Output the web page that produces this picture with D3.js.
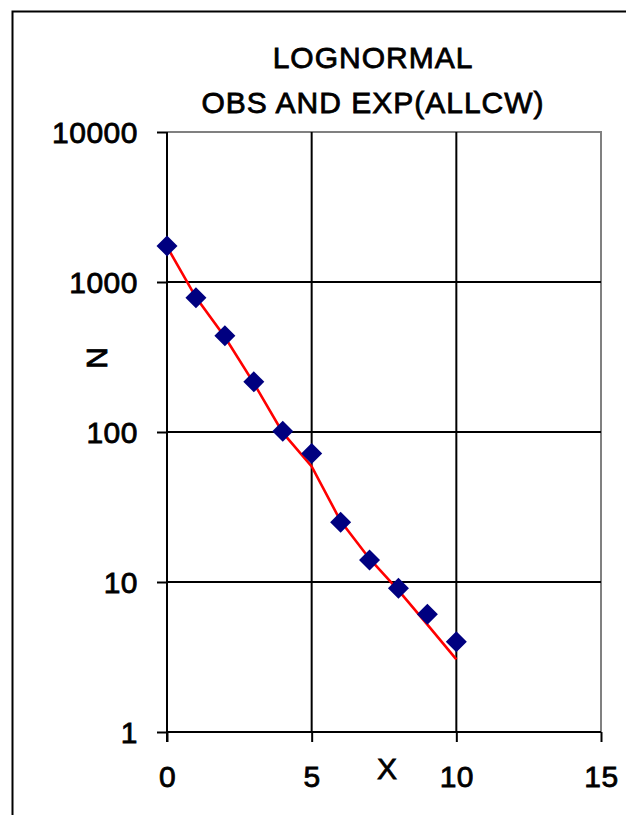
<!DOCTYPE html>
<html>
<head>
<meta charset="utf-8">
<script src="https://cdn.jsdelivr.net/npm/d3@7"></script>
<style>
  html, body { margin: 0; padding: 0; background: #fff; }
  svg { display: block; }
  text { font-family: Arial, "Liberation Sans", sans-serif; fill: #000; }
</style>
</head>
<body>
<svg id="chart" width="626" height="815"></svg>
<script>
// ---- data ----
const titleLines = ["LOGNORMAL", "OBS AND EXP(ALLCW)"];
const xLabel = "X";
const yLabel = "N";
const xTicks = [0, 5, 10, 15];
const yTicks = [1, 10, 100, 1000, 10000];
const obsX = [0, 1, 2, 3, 4, 5, 6, 7, 8, 9, 10];
const obsN = [1740, 785, 438, 216, 101, 72, 25, 14, 9.1, 6.1, 4.0];
const expX = [0, 1, 2, 3, 4, 5, 6, 7, 8, 9, 10];
const expN = [1720, 790, 430, 212, 99, 59, 25.5, 14.3, 8.8, 5.2, 3.05];

// ---- layout ----
const svg = d3.select("#chart");
const pL = 167, pR = 601, pT = 132, pB = 732;
const FONT = 30;

// outer frame (extends beyond the picture on right and bottom)
svg.append("rect")
  .attr("x", 12.5).attr("y", 11.5)
  .attr("width", 700).attr("height", 900)
  .attr("fill", "#fff").attr("stroke", "#000").attr("stroke-width", 2);

const x = d3.scaleLinear().domain([0, 15]).range([pL, pR]);
const y = d3.scaleLog().domain([1, 10000]).range([pB, pT]);

// plot border (top & right gray)
svg.append("path")
  .attr("d", `M${pL},${pT}H${pR}V${pB}`)
  .attr("fill", "none").attr("stroke", "#808080").attr("stroke-width", 2);

// grid lines
const grid = svg.append("g");
grid.selectAll("line.v").data(xTicks.filter(d => d > 0 && d < 15)).join("line")
  .attr("x1", d => x(d)).attr("x2", d => x(d))
  .attr("y1", pT).attr("y2", pB)
  .attr("stroke", "#000").attr("stroke-width", 2);
grid.selectAll("line.h").data(yTicks.filter(d => d > 1 && d < 10000)).join("line")
  .attr("x1", pL).attr("x2", pR)
  .attr("y1", d => y(d)).attr("y2", d => y(d))
  .attr("stroke", "#000").attr("stroke-width", 2);

// axes
const yAxis = svg.append("g").attr("transform", `translate(${pL},0)`)
  .call(d3.axisLeft(y).tickValues(yTicks).tickFormat(d3.format("d"))
        .tickSize(10).tickSizeOuter(0).tickPadding(19));
const xAxis = svg.append("g").attr("transform", `translate(0,${pB})`)
  .call(d3.axisBottom(x).tickValues(xTicks).tickFormat(d3.format("d"))
        .tickSize(10).tickSizeOuter(0).tickPadding(24));
[yAxis, xAxis].forEach(a => {
  a.select(".domain").attr("stroke", "#000").attr("stroke-width", 2);
  a.selectAll(".tick line").attr("stroke", "#000").attr("stroke-width", 2);
  a.selectAll(".tick text")
    .attr("font-family", "Arial, 'Liberation Sans', sans-serif")
    .attr("font-size", FONT).attr("font-weight", "normal")
    .attr("stroke", "#000").attr("stroke-width", 0.8)
    .attr("letter-spacing", 0.5).attr("fill", "#000");
});
yAxis.selectAll(".tick text").attr("dy", "0.36em");
xAxis.select(".domain").attr("d", `M${pL},0H${pR}`);
yAxis.select(".domain").attr("d", `M0,${pT}V${pB + 10}`);

// expected line
svg.append("path")
  .datum(expX.map((d, i) => [d, expN[i]]))
  .attr("d", d3.line().x(d => x(d[0])).y(d => y(d[1])))
  .attr("fill", "none").attr("stroke", "#ff0000").attr("stroke-width", 2.6);

// observed diamonds
const r = 10.5;
svg.append("g").selectAll("path").data(obsX.map((d, i) => [d, obsN[i]])).join("path")
  .attr("transform", d => `translate(${x(d[0])},${y(d[1])})`)
  .attr("d", `M0,${-r}L${r},0L0,${r}L${-r},0Z`)
  .attr("fill", "#000080");

// titles
svg.append("g").selectAll("text").data(titleLines).join("text")
  .attr("x", 373).attr("y", (d, i) => 68 + i * 45)
  .attr("text-anchor", "middle")
  .attr("font-size", FONT).attr("letter-spacing", 1)
  .attr("stroke", "#000").attr("stroke-width", 0.8)
  .text(d => d);

// axis titles
svg.append("text")
  .attr("x", 387).attr("y", 779)
  .attr("text-anchor", "middle")
  .attr("font-size", FONT)
  .attr("stroke", "#000").attr("stroke-width", 0.8)
  .text(xLabel);
svg.append("text")
  .attr("transform", "translate(107,358) rotate(-90)")
  .attr("text-anchor", "middle")
  .attr("font-size", FONT)
  .attr("stroke", "#000").attr("stroke-width", 0.8)
  .text(yLabel);
</script>
</body>
</html>
